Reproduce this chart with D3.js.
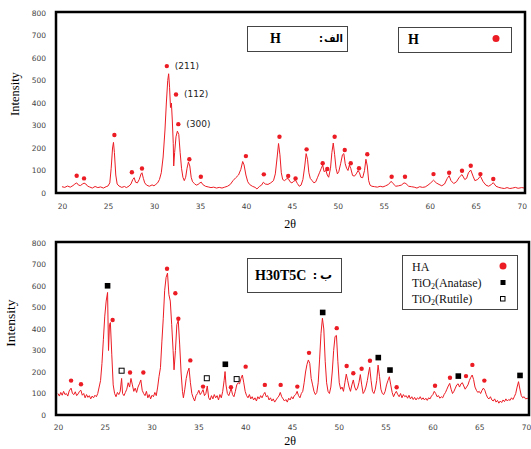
<!DOCTYPE html>
<html>
<head>
<meta charset="utf-8">
<script src="https://cdn.jsdelivr.net/npm/d3@7"></script>
<style>
body { margin: 0; background: #fff; }
svg { display: block; }
</style>
</head>
<body>
<svg id="chart" width="531" height="449"></svg>
<script>
/* ---------------- data ---------------- */
var xTicks = [20, 25, 30, 35, 40, 45, 50, 55, 60, 65, 70];
var yTicks = [0, 100, 200, 300, 400, 500, 600, 700, 800];

// (a) H : 2theta, intensity
var topTrace = [
  [20.0,28],[20.3,25],[20.6,31],[20.9,26],[21.2,33],[21.4,40],[21.6,45],[21.8,35],[22.0,33],[22.2,39],
  [22.4,44],[22.6,40],[22.8,30],[23.0,27],[23.3,22],[23.6,29],[23.9,24],[24.2,27],[24.5,22],[24.8,28],
  [25.0,31],[25.2,45],[25.35,110],[25.5,200],[25.6,225],[25.7,180],[25.85,80],[26.0,40],[26.2,31],[26.5,25],
  [26.8,29],[27.0,24],[27.3,31],[27.5,40],[27.7,60],[27.85,68],[28.0,48],[28.2,45],[28.4,60],[28.6,85],
  [28.7,90],[28.85,65],[29.0,45],[29.2,35],[29.5,30],[29.8,36],[30.0,32],[30.2,38],[30.4,45],[30.6,60],
  [30.8,90],[31.0,160],[31.2,280],[31.35,400],[31.5,500],[31.6,530],[31.7,470],[31.8,380],[31.9,400],[32.0,320],
  [32.1,220],[32.15,120],[32.25,180],[32.4,250],[32.55,275],[32.7,260],[32.85,180],[33.0,110],[33.15,70],[33.3,55],
  [33.45,70],[33.6,110],[33.75,138],[33.9,120],[34.05,70],[34.2,50],[34.4,42],[34.6,35],[34.8,38],[35.0,45],
  [35.15,48],[35.3,38],[35.6,30],[35.9,27],[36.2,24],[36.5,26],[36.8,22],[37.1,25],[37.4,22],[37.7,26],
  [38.0,30],[38.3,38],[38.6,55],[38.9,68],[39.2,80],[39.45,105],[39.65,140],[39.8,125],[40.0,80],[40.2,50],
  [40.4,38],[40.7,30],[41.0,25],[41.2,18],[41.5,30],[41.7,35],[41.9,48],[42.1,40],[42.4,38],[42.7,45],
  [43.0,55],[43.2,85],[43.4,160],[43.55,220],[43.7,170],[43.85,90],[44.0,60],[44.2,55],[44.4,62],[44.6,65],
  [44.8,50],[45.0,45],[45.2,52],[45.4,57],[45.6,42],[45.8,30],[46.0,35],[46.2,60],[46.4,120],[46.55,175],
  [46.7,150],[46.85,90],[47.0,65],[47.2,55],[47.4,45],[47.6,50],[47.8,70],[48.0,90],[48.2,110],[48.35,124],
  [48.5,95],[48.7,100],[48.85,80],[49.0,70],[49.2,110],[49.35,180],[49.5,222],[49.65,170],[49.8,110],[49.95,85],
  [50.1,95],[50.3,130],[50.5,170],[50.65,175],[50.8,130],[50.95,110],[51.1,100],[51.25,124],[51.4,110],[51.6,78],
  [51.8,75],[52.0,85],[52.2,100],[52.35,90],[52.5,70],[52.7,68],[52.9,100],[53.05,150],[53.2,120],[53.35,55],
  [53.5,35],[53.7,30],[54.0,28],[54.3,26],[54.6,30],[54.9,27],[55.2,32],[55.5,38],[55.8,52],[56.0,42],
  [56.3,30],[56.6,32],[56.9,35],[57.2,45],[57.4,42],[57.7,30],[58.0,28],[58.3,26],[58.6,22],[58.9,28],
  [59.2,25],[59.5,27],[59.8,35],[60.1,45],[60.4,57],[60.7,45],[61.0,38],[61.3,32],[61.6,40],[61.9,65],
  [62.1,77],[62.3,55],[62.6,42],[62.9,50],[63.2,70],[63.5,82],[63.8,60],[64.0,65],[64.2,90],[64.45,102],
  [64.7,75],[64.9,55],[65.2,60],[65.5,75],[65.8,50],[66.1,35],[66.4,30],[66.7,38],[66.9,46],[67.2,30],
  [67.5,25],[67.8,22],[68.1,20],[68.4,24],[68.7,20],[69.0,22],[69.3,25],[69.6,21],[70.0,24],[70.3,22]
];
var topHA = [
  [21.6,77],[22.4,65],[25.7,258],[27.6,92],[28.7,109],[31.4,564],[32.4,438],[32.65,306],[33.85,150],[35.1,72],
  [40.0,164],[41.95,83],[43.65,250],[44.6,76],[45.4,65],[46.6,194],[48.35,132],[48.85,107],[49.65,250],[50.75,191],
  [51.4,132],[52.3,110],[53.2,172],[55.85,72],[57.3,72],[60.4,84],[62.1,90],[63.5,99],[64.45,121],[65.5,84],[66.9,62]
];
var hklLabels = ["(211)", "(112)", "(300)"];
var hklPeaks = [[31.4,564],[32.4,438],[32.65,306]];

// (b) H30T5C
var bottomTrace = [
  [20.0,100],[20.15,88],[20.3,105],[20.45,92],[20.6,110],[20.75,95],[20.9,100],[21.05,88],[21.2,112],[21.4,125],
  [21.55,100],[21.7,95],[21.85,108],[22.0,90],[22.15,98],[22.3,110],[22.45,115],[22.6,92],[22.75,100],[22.9,80],
  [23.05,95],[23.2,82],[23.35,90],[23.5,75],[23.65,88],[23.8,80],[23.95,92],[24.1,85],[24.25,100],[24.4,130],
  [24.55,160],[24.7,240],[24.85,350],[25.0,460],[25.15,530],[25.3,570],[25.4,300],[25.5,420],[25.6,430],[25.75,280],
  [25.9,140],[26.05,100],[26.2,85],[26.35,105],[26.5,95],[26.65,110],[26.8,170],[26.9,100],[27.05,90],[27.2,105],
  [27.35,120],[27.5,150],[27.65,130],[27.8,170],[27.95,140],[28.1,110],[28.25,125],[28.4,105],[28.55,130],[28.7,145],
  [28.85,163],[29.0,115],[29.15,100],[29.3,90],[29.45,110],[29.6,80],[29.75,95],[29.9,75],[30.05,92],[30.2,85],
  [30.35,105],[30.5,90],[30.65,130],[30.8,180],[30.95,220],[31.1,340],[31.25,450],[31.4,580],[31.55,640],[31.7,660],
  [31.85,560],[32.0,530],[32.15,420],[32.3,300],[32.4,210],[32.55,300],[32.7,420],[32.85,440],[33.0,330],[33.15,200],
  [33.3,110],[33.4,80],[33.55,120],[33.7,170],[33.85,200],[34.0,218],[34.15,150],[34.3,100],[34.45,80],[34.6,65],
  [34.75,90],[34.9,100],[35.05,115],[35.2,95],[35.35,105],[35.5,118],[35.65,90],[35.8,100],[35.95,135],[36.1,80],
  [36.25,70],[36.4,90],[36.55,75],[36.7,95],[36.85,80],[37.0,90],[37.15,70],[37.3,95],[37.45,80],[37.6,110],
  [37.75,160],[37.85,202],[37.95,140],[38.1,100],[38.25,90],[38.4,110],[38.5,124],[38.65,95],[38.8,85],[38.95,110],
  [39.1,140],[39.25,150],[39.4,145],[39.55,170],[39.7,186],[39.85,150],[40.0,110],[40.15,90],[40.3,80],[40.45,95],
  [40.6,75],[40.75,85],[40.9,70],[41.05,80],[41.2,65],[41.35,85],[41.5,75],[41.65,90],[41.8,80],[41.95,95],
  [42.1,105],[42.25,85],[42.4,90],[42.55,70],[42.7,80],[42.85,65],[43.0,75],[43.15,60],[43.3,70],[43.45,80],
  [43.6,88],[43.75,105],[43.9,85],[44.05,75],[44.2,65],[44.35,72],[44.5,60],[44.65,78],[44.8,70],[44.95,85],
  [45.1,75],[45.25,90],[45.4,95],[45.55,110],[45.7,90],[45.85,80],[46.0,100],[46.15,110],[46.3,150],[46.45,200],
  [46.6,235],[46.75,256],[46.9,240],[47.05,170],[47.2,140],[47.35,110],[47.5,95],[47.65,105],[47.8,150],[47.95,260],
  [48.1,380],[48.25,450],[48.4,400],[48.55,250],[48.7,150],[48.85,110],[49.0,100],[49.15,130],[49.3,200],[49.45,300],
  [49.6,365],[49.75,370],[49.9,250],[50.05,150],[50.2,120],[50.35,130],[50.5,110],[50.65,150],[50.8,190],[50.95,160],
  [51.1,130],[51.25,110],[51.4,140],[51.55,163],[51.7,130],[51.85,115],[52.0,125],[52.15,150],[52.3,188],[52.45,140],
  [52.6,100],[52.75,110],[52.9,130],[53.05,160],[53.2,200],[53.3,222],[53.45,160],[53.6,110],[53.75,100],[53.9,120],
  [54.05,160],[54.2,232],[54.35,180],[54.5,120],[54.65,100],[54.8,95],[54.95,110],[55.1,140],[55.25,160],[55.4,178],
  [55.55,140],[55.7,105],[55.85,85],[56.0,100],[56.15,110],[56.3,95],[56.45,85],[56.6,100],[56.75,80],[56.9,95],
  [57.05,85],[57.2,90],[57.35,78],[57.5,92],[57.65,75],[57.8,85],[57.95,72],[58.1,82],[58.25,70],[58.4,80],
  [58.55,74],[58.7,85],[58.85,72],[59.0,80],[59.15,70],[59.3,78],[59.45,68],[59.6,80],[59.75,75],[59.9,88],
  [60.05,95],[60.2,110],[60.35,100],[60.5,85],[60.65,90],[60.8,78],[60.95,85],[61.1,80],[61.25,95],[61.4,105],
  [61.55,120],[61.7,135],[61.85,147],[62.0,120],[62.15,100],[62.3,110],[62.45,125],[62.6,140],[62.75,145],[62.9,130],
  [63.05,145],[63.2,150],[63.35,135],[63.5,120],[63.65,130],[63.8,140],[63.95,160],[64.1,175],[64.25,186],[64.4,165],
  [64.55,130],[64.7,115],[64.85,105],[65.0,110],[65.15,100],[65.3,115],[65.45,125],[65.6,115],[65.75,95],[65.9,80],
  [66.05,75],[66.2,85],[66.35,70],[66.5,65],[66.65,75],[66.8,60],[66.95,68],[67.1,55],[67.25,65],[67.4,58],
  [67.55,70],[67.7,62],[67.85,75],[68.0,65],[68.15,72],[68.3,68],[68.45,80],[68.6,72],[68.75,85],[68.9,100],
  [69.05,130],[69.2,155],[69.35,120],[69.5,90],[69.65,80],[69.8,85],[69.95,75],[70.2,78]
];
var bottomHA = [
  [21.4,160],[22.46,143],[25.84,442],[27.7,198],[29.12,198],[31.65,680],[32.54,566],[32.86,448],[34.14,254],[35.5,132],
  [38.48,129],[40.05,225],[42.1,140],[43.79,140],[45.57,132],[46.82,289],[49.78,404],[50.84,228],[51.55,194],[52.44,215],
  [53.33,252],[56.18,129],[60.28,136],[61.88,173],[63.59,181],[64.27,233],[65.55,160]
];
var bottomAnatase = [[25.3,601],[37.88,236],[48.28,477],[54.22,267],[55.47,209],[62.77,181],[69.36,184]];
var bottomRutile = [[26.8,206],[35.9,171],[39.09,167]];

var red = "#ec1c24";
var svg = d3.select("#chart");

/* draw one panel: frame, axes, trace and phase markers */
function drawPanel(p) {
    var x = d3.scaleLinear().domain(p.xDomain).range([p.left, p.right]);
    var y = d3.scaleLinear().domain([0, 800]).range([p.bottom, p.yTop]);
    var g = svg.append("g");

    var yAxis = g.append("g")
        .attr("transform", "translate(" + p.left + ",0)")
        .call(d3.axisLeft(y).tickValues(yTicks).tickSize(0).tickPadding(10));
    yAxis.select(".domain").remove();
    yAxis.selectAll("text").attr("font-family", "DejaVu Sans").attr("font-size", 7.5).attr("fill", "#444");

    var xAxis = g.append("g")
        .attr("transform", "translate(0," + p.bottom + ")")
        .call(d3.axisBottom(x).tickValues(xTicks).tickSize(0).tickPadding(p.xPad));
    xAxis.select(".domain").remove();
    xAxis.selectAll("text").attr("font-family", "DejaVu Sans").attr("font-size", 7.5).attr("fill", "#444");

    g.append("text")
        .attr("transform", "translate(" + p.yLabelX + "," + p.yLabelY + ") rotate(-90)")
        .attr("text-anchor", "middle")
        .attr("font-family", "Liberation Serif")
        .attr("font-size", p.yLabelSize)
        .text("Intensity");

    g.append("text")
        .attr("x", 290).attr("y", p.xLabelY)
        .attr("text-anchor", "middle")
        .attr("font-family", "Liberation Serif")
        .attr("font-size", 12)
        .text("2θ");

    var line = d3.line()
        .x(function (d) { return x(d[0]); })
        .y(function (d) { return y(d[1]); });

    g.append("path")
        .datum(p.trace)
        .attr("d", line)
        .attr("fill", "none")
        .attr("stroke", red)
        .attr("stroke-width", 1)
        .attr("stroke-linejoin", "round");

    g.selectAll(".ha").data(p.ha).enter().append("circle")
        .attr("cx", function (d) { return x(d[0]); })
        .attr("cy", function (d) { return y(d[1]); })
        .attr("r", 2.2)
        .attr("fill", red);

    g.selectAll(".anatase").data(p.anatase || []).enter().append("rect")
        .attr("x", function (d) { return x(d[0]) - 2.8; })
        .attr("y", function (d) { return y(d[1]) - 2.8; })
        .attr("width", 5.6).attr("height", 5.6)
        .attr("fill", "#000");

    g.selectAll(".rutile").data(p.rutile || []).enter().append("rect")
        .attr("x", function (d) { return x(d[0]) - 2.5; })
        .attr("y", function (d) { return y(d[1]) - 2.5; })
        .attr("width", 5).attr("height", 5)
        .attr("fill", "#fff").attr("stroke", "#000").attr("stroke-width", 1);

    // thick plot frame drawn last, over the trace ends
    g.append("rect")
        .attr("x", p.left).attr("y", p.yTop - 1)
        .attr("width", p.right - p.left).attr("height", p.bottom - p.yTop + 1)
        .attr("fill", "none").attr("stroke", "#000").attr("stroke-width", 2.5);

    return {x: x, y: y, g: g};
}

var topPanel = drawPanel({
    xDomain: [19.35, 70.35], left: 56, right: 525, yTop: 13, bottom: 193, xPad: 11,
    yLabelX: 19, yLabelY: 94, yLabelSize: 12.5, xLabelY: 228,
    trace: topTrace, ha: topHA
});

topPanel.g.selectAll(".hkl").data(hklPeaks).enter().append("text")
    .attr("x", function (d) { return topPanel.x(d[0]) + 8; })
    .attr("y", function (d) { return topPanel.y(d[1]) + 3; })
    .attr("font-family", "DejaVu Sans")
    .attr("font-size", 9)
    .attr("fill", "#222")
    .text(function (d, i) { return hklLabels[i]; });

var bottomPanel = drawPanel({
    xDomain: [19.79, 70.32], left: 56, right: 529, yTop: 243, bottom: 415, xPad: 10,
    yLabelX: 15, yLabelY: 323, yLabelSize: 13.5, xLabelY: 445,
    trace: bottomTrace, ha: bottomHA, anatase: bottomAnatase, rutile: bottomRutile
});

/* ---------------- title boxes and legends ---------------- */
function box(x, y, w, h) {
    svg.append("rect").attr("x", x).attr("y", y).attr("width", w).attr("height", h)
        .attr("fill", "#fff").attr("stroke", "#444").attr("stroke-width", 1);
}

box(247.5, 26.5, 100, 25);
svg.append("text").attr("x", 270).attr("y", 43).attr("font-family", "Liberation Serif")
    .attr("font-weight", "bold").attr("font-size", 14).text("H");
svg.append("text").attr("x", 321).attr("y", 42).attr("font-family", "DejaVu Sans")
    .attr("font-weight", "bold").attr("font-size", 10).attr("text-anchor", "middle").text(":");
svg.append("text").attr("x", 343).attr("y", 42).attr("font-family", "DejaVu Sans")
    .attr("font-weight", "bold").attr("font-size", 10).attr("text-anchor", "end").text("الف");

box(398.5, 27.5, 113, 25);
svg.append("text").attr("x", 408).attr("y", 44).attr("font-family", "Liberation Serif")
    .attr("font-weight", "bold").attr("font-size", 14).text("H");
svg.append("circle").attr("cx", 496).attr("cy", 38.5).attr("r", 3.5).attr("fill", red);

box(247.5, 258.5, 94, 34);
svg.append("text").attr("x", 255).attr("y", 280).attr("font-family", "Liberation Serif")
    .attr("font-weight", "bold").attr("font-size", 14).text("H30T5C");
svg.append("text").attr("x", 315).attr("y", 279).attr("font-family", "DejaVu Sans")
    .attr("font-weight", "bold").attr("font-size", 11).attr("text-anchor", "middle").text(":");
svg.append("text").attr("x", 332).attr("y", 279).attr("font-family", "DejaVu Sans")
    .attr("font-weight", "bold").attr("font-size", 12).attr("text-anchor", "end").text("ب");

box(402.5, 255.5, 115, 54);
var legendNames = ["HA", "TiO", "TiO"];
var legendTails = ["", "(Anatase)", "(Rutile)"];
var legendY = [267, 283, 299];
legendNames.forEach(function (name, i) {
    var t = svg.append("text").attr("x", 412).attr("y", legendY[i] + 4)
        .attr("font-family", "Liberation Serif").attr("font-size", 12).attr("fill", "#111");
    t.append("tspan").text(name);
    if (i > 0) {
        t.append("tspan").attr("font-size", 8).attr("dy", 2).text("2");
        t.append("tspan").attr("dy", -2).text(legendTails[i]);
    }
});
svg.append("circle").attr("cx", 503).attr("cy", 266).attr("r", 3.5).attr("fill", red);
svg.append("rect").attr("x", 500.5).attr("y", 280).attr("width", 5).attr("height", 5).attr("fill", "#000");
svg.append("rect").attr("x", 500.5).attr("y", 296.5).attr("width", 4.5).attr("height", 4.5)
    .attr("fill", "#fff").attr("stroke", "#000").attr("stroke-width", 1);
</script>
</body>
</html>
